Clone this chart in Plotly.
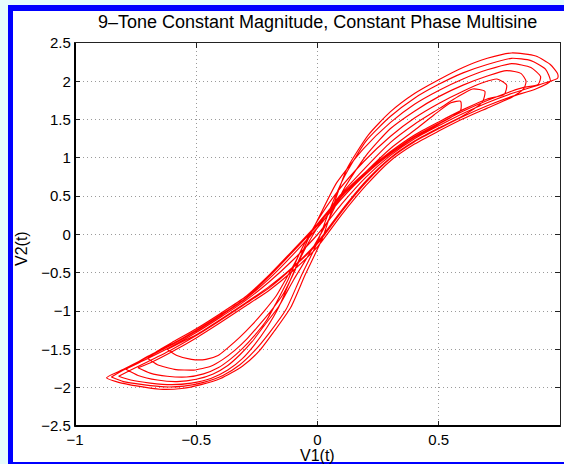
import base64
import struct
import zlib

import plotly.graph_objects as go

# ---- data ----
x_ticks = [-1, -0.5, 0, 0.5, 1]
y_ticks = [-2.5, -2, -1.5, -1, -0.5, 0, 0.5, 1, 1.5, 2, 2.5]

# rising (steep) arms: left tip -> bottom arc -> centre -> top arc -> right tip
up1_x = [-0.87, -0.82, -0.74, -0.65, -0.56, -0.48, -0.40, -0.31, -0.24, -0.18, -0.11, -0.05, 0.02, 0.07, 0.12, 0.21, 0.30, 0.40, 0.50, 0.60, 0.70, 0.80, 0.90, 0.96, 0.99, 0.99]
up1_y = [-1.87, -1.93, -1.98, -2.02, -2.01, -1.96, -1.88, -1.72, -1.52, -1.27, -0.95, -0.52, -0.05, 0.42, 0.85, 1.30, 1.60, 1.84, 2.02, 2.18, 2.30, 2.37, 2.33, 2.22, 2.10, 2.04]
up2_x = [-0.85, -0.80, -0.72, -0.63, -0.55, -0.47, -0.39, -0.32, -0.26, -0.20, -0.13, -0.07, 0.0, 0.05, 0.11, 0.20, 0.30, 0.40, 0.50, 0.60, 0.70, 0.80, 0.88, 0.94, 0.96]
up2_y = [-1.86, -1.92, -1.96, -1.99, -1.98, -1.93, -1.84, -1.70, -1.52, -1.29, -0.98, -0.56, -0.10, 0.32, 0.75, 1.22, 1.54, 1.78, 1.96, 2.11, 2.22, 2.30, 2.27, 2.16, 2.00]
up3_x = [-0.82, -0.77, -0.69, -0.60, -0.52, -0.44, -0.37, -0.31, -0.26, -0.21, -0.16, -0.11, -0.05, 0.01, 0.08, 0.19, 0.30, 0.40, 0.50, 0.60, 0.70, 0.80, 0.88, 0.92, 0.91]
up3_y = [-1.85, -1.90, -1.94, -1.96, -1.94, -1.88, -1.77, -1.62, -1.44, -1.22, -0.95, -0.58, -0.14, 0.25, 0.68, 1.12, 1.46, 1.70, 1.88, 2.03, 2.15, 2.23, 2.18, 2.06, 1.96]
up4_x = [-0.79, -0.74, -0.66, -0.58, -0.50, -0.43, -0.37, -0.32, -0.27, -0.22, -0.16, -0.10, -0.02, 0.05, 0.11, 0.20, 0.30, 0.40, 0.50, 0.60, 0.70, 0.78, 0.84, 0.86, 0.85]
up4_y = [-1.76, -1.84, -1.90, -1.92, -1.89, -1.82, -1.71, -1.57, -1.40, -1.19, -0.94, -0.60, -0.18, 0.22, 0.60, 1.03, 1.38, 1.61, 1.80, 1.95, 2.07, 2.14, 2.10, 2.00, 1.90]
up5_x = [-0.74, -0.69, -0.62, -0.54, -0.47, -0.41, -0.36, -0.31, -0.26, -0.21, -0.17, -0.12, -0.07, 0.0, 0.08, 0.19, 0.30, 0.40, 0.50, 0.60, 0.68, 0.74, 0.78, 0.77]
up5_y = [-1.74, -1.81, -1.85, -1.86, -1.82, -1.74, -1.63, -1.49, -1.32, -1.12, -0.89, -0.58, -0.22, 0.18, 0.55, 0.95, 1.28, 1.52, 1.71, 1.87, 1.98, 2.03, 1.95, 1.83]
up6_x = [-0.70, -0.66, -0.59, -0.51, -0.44, -0.39, -0.34, -0.29, -0.24, -0.19, -0.14, -0.10, -0.06, 0.01, 0.09, 0.20, 0.30, 0.40, 0.50, 0.58, 0.64, 0.69, 0.68]
up6_y = [-1.62, -1.70, -1.76, -1.77, -1.72, -1.63, -1.51, -1.36, -1.18, -0.99, -0.77, -0.52, -0.24, 0.14, 0.50, 0.88, 1.20, 1.44, 1.64, 1.80, 1.90, 1.87, 1.73]
up7_x = [-0.62, -0.58, -0.52, -0.46, -0.41, -0.37, -0.32, -0.27, -0.22, -0.17, -0.13, -0.09, -0.05, 0.02, 0.09, 0.20, 0.30, 0.40, 0.48, 0.55, 0.59, 0.59]
up7_y = [-1.50, -1.58, -1.63, -1.63, -1.58, -1.48, -1.34, -1.18, -1.00, -0.80, -0.58, -0.35, -0.10, 0.16, 0.46, 0.82, 1.12, 1.36, 1.56, 1.72, 1.74, 1.62]

# falling (shallow band) arms: right tip -> next left tip
dn1_x = [0.94, 0.90, 0.80, 0.70, 0.60, 0.50, 0.40, 0.30, 0.20, 0.10, 0.0, -0.10, -0.20, -0.30, -0.40, -0.50, -0.60, -0.70, -0.80, -0.85]
dn1_y = [1.98, 1.94, 1.84, 1.72, 1.58, 1.42, 1.25, 1.03, 0.75, 0.40, 0.0, -0.33, -0.62, -0.87, -1.08, -1.28, -1.46, -1.62, -1.77, -1.86]
dn2_x = [0.90, 0.80, 0.70, 0.60, 0.50, 0.40, 0.30, 0.20, 0.10, 0.0, -0.10, -0.20, -0.30, -0.40, -0.50, -0.60, -0.70, -0.77, -0.82]
dn2_y = [1.90, 1.80, 1.68, 1.54, 1.38, 1.21, 0.99, 0.68, 0.30, -0.12, -0.43, -0.70, -0.91, -1.12, -1.32, -1.50, -1.66, -1.77, -1.85]
dn3_x = [0.85, 0.80, 0.70, 0.60, 0.50, 0.40, 0.30, 0.20, 0.10, 0.0, -0.10, -0.20, -0.30, -0.40, -0.50, -0.60, -0.70, -0.79]
dn3_y = [1.92, 1.87, 1.75, 1.61, 1.45, 1.28, 1.06, 0.80, 0.50, 0.12, -0.22, -0.55, -0.84, -1.05, -1.25, -1.43, -1.59, -1.76]
dn4_x = [0.80, 0.70, 0.60, 0.50, 0.40, 0.30, 0.20, 0.10, 0.0, -0.10, -0.20, -0.30, -0.40, -0.50, -0.60, -0.68, -0.74]
dn4_y = [1.79, 1.65, 1.51, 1.35, 1.18, 0.96, 0.64, 0.26, -0.16, -0.47, -0.73, -0.94, -1.15, -1.35, -1.53, -1.66, -1.74]
dn5_x = [0.70, 0.60, 0.50, 0.40, 0.30, 0.20, 0.10, 0.0, -0.10, -0.20, -0.30, -0.40, -0.50, -0.60, -0.66, -0.70]
dn5_y = [1.77, 1.63, 1.47, 1.30, 1.08, 0.82, 0.52, 0.14, -0.20, -0.53, -0.82, -1.03, -1.23, -1.41, -1.52, -1.62]
dn6_x = [0.60, 0.50, 0.40, 0.30, 0.20, 0.10, 0.0, -0.10, -0.20, -0.30, -0.40, -0.50, -0.57, -0.62]
dn6_y = [1.55, 1.39, 1.22, 1.00, 0.70, 0.32, -0.10, -0.42, -0.68, -0.90, -1.11, -1.31, -1.42, -1.50]
dn7_x = [0.50, 0.40, 0.30, 0.20, 0.10, 0.0, -0.10, -0.20, -0.30, -0.40, -0.50, -0.60, -0.70, -0.80, -0.87]
dn7_y = [1.44, 1.27, 1.05, 0.79, 0.47, 0.09, -0.26, -0.58, -0.85, -1.06, -1.26, -1.44, -1.60, -1.76, -1.87]

segments_x = [up1_x, dn1_x, up2_x, dn2_x, up3_x, dn3_x, up4_x, dn4_x, up5_x, dn5_x, up6_x, dn6_x, up7_x, dn7_x]
segments_y = [up1_y, dn1_y, up2_y, dn2_y, up3_y, dn3_y, up4_y, dn4_y, up5_y, dn5_y, up6_y, dn6_y, up7_y, dn7_y]

xs, ys = [], []
for sx, sy in zip(segments_x, segments_y):
    xs.extend(sx)
    ys.extend(sy)

W, H = 564, 464
L, R, T, B = 75, 4, 43, 38
pw, ph = W - L - R, H - T - B


def px(v):
    return (v - L) / pw


def py(v):
    return (H - B - v) / ph


def solid_png(r, g, b):
    def chunk(tag, data):
        return struct.pack(">I", len(data)) + tag + data + struct.pack(">I", zlib.crc32(tag + data) & 0xffffffff)
    raw = b"\x00" + bytes([r, g, b])
    png = (b"\x89PNG\r\n\x1a\n" + chunk(b"IHDR", struct.pack(">IIBBBBB", 1, 1, 8, 2, 0, 0, 0))
           + chunk(b"IDAT", zlib.compress(raw)) + chunk(b"IEND", b""))
    return "data:image/png;base64," + base64.b64encode(png).decode()


FONT = "Liberation Sans, Arial, Helvetica, sans-serif"
CYAN = "#e6fcfc"
BLUE = "#0000ff"

fig = go.Figure()
fig.add_trace(go.Scatter(x=xs, y=ys, mode="lines",
                         line=dict(color="#ff0000", width=1.15, shape="spline", smoothing=0.6),
                         hoverinfo="skip", showlegend=False))

axis_common = dict(showgrid=True, gridcolor="#9a9a9a", gridwidth=1, griddash="1px,3px",
                   zeroline=False, showline=True, linecolor="#222222", linewidth=1.2,
                   mirror="ticks", ticks="inside", ticklen=5, tickwidth=1, tickcolor="#222222",
                   tickfont=dict(family=FONT, size=15, color="#000000"))

fig.update_xaxes(range=[-1, 1], tickvals=x_ticks, **axis_common)
fig.update_yaxes(range=[-2.5, 2.5], tickvals=y_ticks, **axis_common)

shapes = [
    dict(type="rect", xref="paper", yref="paper", x0=px(13), x1=px(W + 2), y0=py(11), y1=py(462),
         fillcolor="#ffffff", line_width=0, layer="below"),
    dict(type="rect", xref="paper", yref="paper", x0=px(-2), x1=px(W + 2), y0=py(-2), y1=py(5),
         fillcolor=CYAN, line_width=0, layer="below"),
    dict(type="rect", xref="paper", yref="paper", x0=px(-2), x1=px(8), y0=py(-2), y1=py(H + 2),
         fillcolor=CYAN, line_width=0, layer="below"),
    dict(type="rect", xref="paper", yref="paper", x0=px(8), x1=px(13), y0=py(5), y1=py(H + 2),
         fillcolor=BLUE, line_width=0, layer="above"),
    dict(type="rect", xref="paper", yref="paper", x0=px(8), x1=px(W + 2), y0=py(5), y1=py(11),
         fillcolor=BLUE, line_width=0, layer="above"),
    dict(type="line", xref="paper", yref="paper", x0=0, x1=0, y0=0, y1=1,
         line=dict(color="#000000", width=2), layer="above"),
    dict(type="line", xref="paper", yref="paper", x0=0, x1=1, y0=0, y1=0,
         line=dict(color="#000000", width=2), layer="above"),
]

images = [
    dict(source=solid_png(0, 0, 255), xref="paper", yref="paper", x=px(8), y=py(5),
         sizex=(W - 8) / pw, sizey=6 / ph, sizing="stretch", xanchor="left", yanchor="top",
         layer="above"),
]

annotations = [
    dict(text="9–Tone Constant Magnitude, Constant Phase Multisine", xref="paper", yref="paper",
         x=px(317.5), y=py(22), xanchor="center", yanchor="middle", showarrow=False,
         font=dict(family=FONT, size=18, color="#000000")),
    dict(text="V1(t)", xref="paper", yref="paper", x=px(317.5), y=py(455), xanchor="center",
         yanchor="middle", showarrow=False, font=dict(family=FONT, size=16, color="#000000")),
    dict(text="V2(t)", xref="paper", yref="paper", x=px(21), y=py(249), xanchor="center",
         yanchor="middle", showarrow=False, textangle=-90,
         font=dict(family=FONT, size=16, color="#000000")),
]

fig.update_layout(width=W, height=H, margin=dict(l=L, r=R, t=T, b=B),
                  paper_bgcolor=BLUE, plot_bgcolor="#ffffff",
                  shapes=shapes, images=images, annotations=annotations, showlegend=False)

fig.write_html("out.html", config={"displayModeBar": False},
               post_script="document.body.style.margin='0px';")
